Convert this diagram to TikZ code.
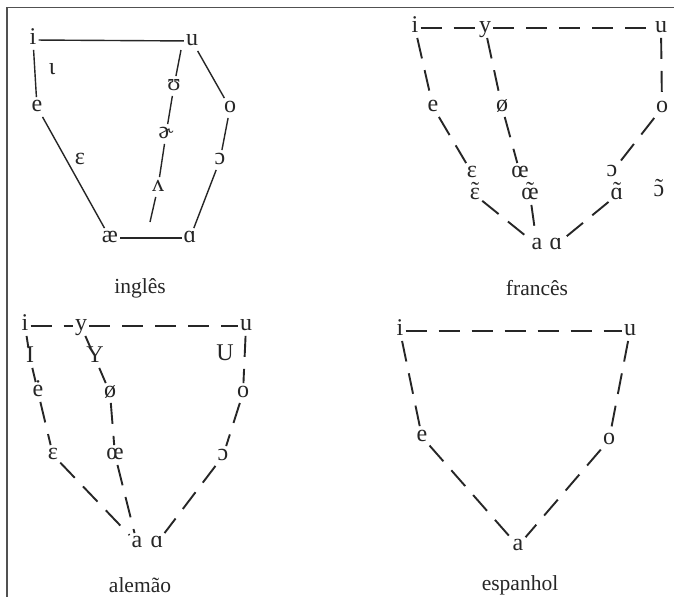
\documentclass[tikz,border=0pt]{standalone}
\usepackage{fontspec}
\setmainfont{Liberation Serif}
\definecolor{ink}{HTML}{262626}
\newcommand\nasv[1]{\ooalign{#1\cr\hidewidth\raisebox{0.05em}{˜}\hidewidth\cr}}
\begin{document}
\begin{tikzpicture}[x=1pt,y=-1pt,
  v/.style={inner sep=2pt, text height=12.5pt, text depth=3pt,
            font=\fontsize{24}{26}\selectfont, text=ink},
  lab/.style={inner sep=0pt, font=\fontsize{21.5}{24}\selectfont, text=ink},
  sol/.style={draw=ink, line width=1.4pt},
  dsh/.style={draw=ink, line width=1.9pt, dash pattern=on 21pt off 12pt},
  frame/.style={draw=ink!80, line width=1.3pt}]
\useasboundingbox (0,0) rectangle (674,597);
\fill[white] (0,0) rectangle (674,597);
% frame
\coordinate (fTL) at (7,7.5);
\coordinate (fTR) at (674,7.5);
\coordinate (fBL) at (7,597);
\draw[frame] (fTR) -- (fTL) -- (fBL);

% ---------------- ingles ----------------
\node[v] (iE) at (33,40) {i};
\node[v] (uE) at (192,41) {u};
\node[v] (iotaE) at (52,70) {ɩ};
\node[v] (eE) at (37,107) {e};
\node[v] (epsE) at (80,160) {ɛ};
\node[v] (aeE) at (110,238) {æ};
\node[v] (ascE) at (190,238) {ɑ};
\node[v] (oE) at (230,108) {o};
\node[v] (ocE) at (220,160) {ɔ};
\node[v] (upsE) at (174,86) {ʊ};
\node[v] (schE) at (166,134) {ɚ};
\node[v] (wedE) at (158,187) {ʌ};
\coordinate (sE) at (181,50);
\coordinate (tE) at (150,222);
\node[lab] (labE) at (140,288) {inglês};
\draw[sol] (iE) -- (uE);
\draw[sol] (iE) -- (eE);
\draw[sol] (eE) -- (aeE);
\draw[sol] (aeE) -- (ascE);
\draw[sol] (uE) -- (oE);
\draw[sol] (oE) -- (ocE);
\draw[sol] (ocE) -- (ascE);
\draw[sol] (sE) -- (upsE);
\draw[sol] (upsE) -- (schE);
\draw[sol] (schE) -- (wedE);
\draw[sol] (wedE) -- (tE);

% ---------------- frances ----------------
\node[v] (iF) at (415,28) {i};
\node[v] (yF) at (485,28) {y};
\node[v] (uF) at (661,28) {u};
\node[v] (eF) at (433,107) {e};
\node[v] (oslF) at (502,107) {ø};
\node[v] (oF) at (662,108) {o};
\node[v] (epsF) at (472,173) {ɛ};
\node[v] (epsnF) at (475,195) {\nasv{ɛ}};
\node[v] (oeF) at (520,173) {œ};
\node[v] (oenF) at (530,195) {\nasv{œ}};
\node[v] (ocF) at (612,172) {ɔ};
\node[v] (ascnF) at (617,195) {\nasv{ɑ}};
\node[v] (ocnF) at (659,192) {\nasv{ɔ}};
\node[v] (aF) at (537,245) {a};
\node[v] (ascF) at (556,245) {ɑ};
\node[lab] (labF) at (537,288) {francês};
\draw[dsh] (iF) -- (yF);
\draw[dsh] (yF) -- (uF);
\draw[dsh] (iF) -- (eF);
\draw[dsh] (eF) -- (epsF);
\draw[dsh] (epsnF) -- (aF);
\draw[dsh] (yF) -- (oslF);
\draw[dsh] (oslF) -- (oeF);
\draw[dsh] (oenF) -- (aF);
\draw[dsh] (uF) -- (oF);
\draw[dsh] (oF) -- (ocF);
\draw[dsh] (ascnF) -- (ascF);

% ---------------- alemao ----------------
\node[v] (iG) at (25,326) {i};
\node[v] (yG) at (81,326) {y};
\node[v] (uG) at (246,326) {u};
\node[v] (IG) at (30,358) {I};
\node[v] (YG) at (95,358) {Y};
\node[v] (UG) at (225,356) {U};
\node[v] (eG) at (38,392) {ė};
\node[v] (oslG) at (110,393) {ø};
\node[v] (oG) at (243,393) {o};
\node[v] (epsG) at (53,455) {ɛ};
\node[v] (oeG) at (115,455) {œ};
\node[v] (ocG) at (223,456) {ɔ};
\node[v] (aG) at (137,543) {a};
\node[v] (ascG) at (157,543) {ɑ};
\node[lab] (labG) at (140,585) {alemão};
\draw[dsh] (iG) -- (yG);
\draw[dsh] (yG) -- (uG);
\draw[dsh] (iG) -- (IG);
\draw[dsh] (IG) -- (eG);
\draw[dsh] (eG) -- (epsG);
\draw[dsh] (epsG) -- (aG);
\draw[dsh] (yG) -- (YG);
\draw[dsh] (YG) -- (oslG);
\draw[dsh] (oslG) -- (oeG);
\draw[dsh] (oeG) -- (aG);
\draw[dsh] (uG) -- (oG);
\draw[dsh] (oG) -- (ocG);
\draw[dsh] (ocG) -- (ascG);

% ---------------- espanhol ----------------
\node[v] (iS) at (400,331) {i};
\node[v] (uS) at (630,331) {u};
\node[v] (eS) at (422,437) {e};
\node[v] (oS) at (609,440) {o};
\node[v] (aS) at (518,546) {a};
\node[lab] (labS) at (520,585) {espanhol};
\draw[dsh] (iS) -- (uS);
\draw[dsh] (iS) -- (eS);
\draw[dsh] (eS) -- (aS);
\draw[dsh] (uS) -- (oS);
\draw[dsh] (oS) -- (aS);
\end{tikzpicture}
\end{document}
